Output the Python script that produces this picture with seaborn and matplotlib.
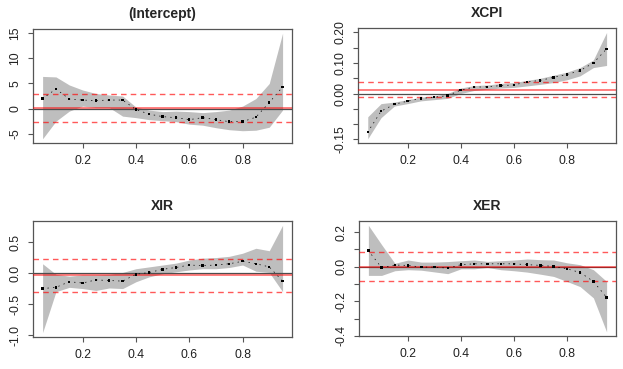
import matplotlib
matplotlib.use("Agg")
import matplotlib.pyplot as plt
import numpy as np
import pandas as pd
import seaborn as sns

# quantiles
taus = [0.05, 0.10, 0.15, 0.20, 0.25, 0.30, 0.35, 0.40, 0.45, 0.50,
        0.55, 0.60, 0.65, 0.70, 0.75, 0.80, 0.85, 0.90, 0.95]

# (Intercept)
int_est = [2.0, 3.9, 1.9, 1.7, 1.6, 1.7, 1.7, -0.2, -1.1, -1.6,
           -1.8, -2.2, -1.8, -2.2, -2.6, -2.6, -1.7, 1.2, 4.3]
int_lo = [-6.0, -2.5, -0.5, 0.5, 0.2, 0.2, -1.5, -1.8, -2.2, -2.4,
          -2.6, -3.1, -3.3, -3.8, -4.2, -4.4, -4.3, -3.7, -0.3]
int_hi = [6.4, 6.3, 4.7, 3.7, 3.0, 2.7, 2.5, 0.3, -0.3, -0.6,
          -0.5, -0.6, -0.8, -0.6, -0.3, 0.5, 2.0, 5.0, 15.0]
int_ols = [0.1, -2.7, 2.9]

# XCPI
cpi_est = [-0.126, -0.058, -0.035, -0.025, -0.016, -0.012, -0.007, 0.011, 0.021, 0.022,
           0.026, 0.028, 0.038, 0.043, 0.053, 0.062, 0.075, 0.100, 0.146]
cpi_lo = [-0.148, -0.079, -0.041, -0.033, -0.024, -0.020, -0.016, 0.000, 0.010, 0.014,
          0.018, 0.020, 0.025, 0.030, 0.036, 0.045, 0.058, 0.085, 0.092]
cpi_hi = [-0.076, -0.033, -0.028, -0.020, -0.012, -0.008, 0.000, 0.018, 0.026, 0.028,
          0.033, 0.036, 0.043, 0.050, 0.060, 0.070, 0.085, 0.110, 0.200]
cpi_ols = [0.011, -0.012, 0.037]

# XIR
ir_est = [-0.25, -0.23, -0.14, -0.16, -0.11, -0.12, -0.13, -0.02, 0.01, 0.06,
          0.09, 0.13, 0.12, 0.13, 0.15, 0.19, 0.15, 0.10, -0.13]
ir_lo = [-0.96, -0.30, -0.23, -0.25, -0.28, -0.24, -0.25, -0.14, -0.06, -0.01,
         0.02, 0.05, 0.07, 0.07, 0.09, 0.13, 0.03, 0.01, -0.30]
ir_hi = [0.15, -0.02, -0.05, -0.03, -0.03, -0.02, 0.01, 0.07, 0.10, 0.13,
         0.16, 0.21, 0.24, 0.25, 0.27, 0.32, 0.40, 0.36, 0.77]
ir_ols = [-0.035, -0.30, 0.22]

# XER
er_est = [0.093, -0.005, 0.010, 0.008, -0.002, -0.002, -0.008, 0.012, 0.017, 0.017,
          0.017, 0.017, 0.012, 0.008, 0.002, -0.012, -0.033, -0.085, -0.177]
er_lo = [-0.050, -0.050, -0.023, -0.017, -0.020, -0.030, -0.040, -0.012, -0.012, -0.004,
         -0.017, -0.023, -0.031, -0.043, -0.056, -0.085, -0.115, -0.180, -0.377]
er_hi = [0.240, 0.128, 0.020, 0.039, 0.027, 0.027, 0.030, 0.035, 0.039, 0.031,
         0.035, 0.039, 0.045, 0.041, 0.039, 0.023, 0.012, -0.017, -0.085]
er_ols = [-0.003, -0.085, 0.083]

titles = ["(Intercept)", "XCPI", "XIR", "XER"]
ytick_vals = [[-5, 0, 5, 10, 15],
              [-0.15, -0.10, -0.05, 0.00, 0.05, 0.10, 0.15, 0.20],
              [-1.0, -0.5, 0.0, 0.5],
              [-0.4, -0.3, -0.2, -0.1, 0.0, 0.1, 0.2]]
ytick_labels = [["-5", "0", "5", "10", "15"],
                ["-0.15", "", "", "0.00", "", "0.10", "", "0.20"],
                ["-1.0", "-0.5", "0.0", "0.5"],
                ["-0.4", "", "-0.2", "", "0.0", "", "0.2"]]

panels = [(int_est, int_lo, int_hi, int_ols),
          (cpi_est, cpi_lo, cpi_hi, cpi_ols),
          (ir_est, ir_lo, ir_hi, ir_ols),
          (er_est, er_lo, er_hi, er_ols)]

sns.set_style("white")
plt.rcParams['font.family'] = ['Liberation Sans', 'DejaVu Sans']

fig = plt.figure(figsize=(6.23, 3.69), dpi=100, facecolor='w')
rects = [[0.053, 0.6125, 0.416, 0.309],
         [0.575, 0.6125, 0.414, 0.311],
         [0.053, 0.087, 0.416, 0.314],
         [0.576, 0.089, 0.413, 0.312]]

for i, (est, lo, hi, ols) in enumerate(panels):
    ax = fig.add_axes(rects[i])
    df = pd.DataFrame({'tau': taus, 'est': est, 'lo': lo, 'hi': hi})
    ax.fill_between(df['tau'], df['lo'], df['hi'], color='#BEBEBE', lw=0, zorder=1)
    ax.axhline(0, color='#4d4d4d', lw=0.9, zorder=2)
    ax.axhline(ols[0], color='#ff0000', lw=1.4, alpha=0.5, zorder=3)
    for v in ols[1:]:
        ax.axhline(v, color='#ff0000', lw=1.0, alpha=0.65, ls=(0, (4, 3)), zorder=3)
    sns.lineplot(data=df, x='tau', y='est', ax=ax, color='black', lw=0.5,
                 linestyle=(1, (2, 6)), zorder=4)
    sns.scatterplot(data=df, x='tau', y='est', ax=ax, color='black', s=3,
                    marker='s', edgecolor='none', zorder=5)
    ax.margins(x=0.04, y=0.04)
    ax.set_xticks([0.2, 0.4, 0.6, 0.8], labels=["0.2", "0.4", "0.6", "0.8"])
    ax.set_yticks(ytick_vals[i], labels=ytick_labels[i])
    for lab in ax.get_yticklabels():
        lab.set_rotation(90)
        lab.set_va('center')
    ax.tick_params(axis='both', which='both', direction='out', length=3.5, width=0.8,
                   color='#555555', labelsize=8.8, labelcolor='#222222', pad=5,
                   bottom=True, left=True)
    ax.set_xlabel('')
    ax.set_ylabel('')
    ax.set_title(titles[i], fontsize=10, fontweight='bold', pad=8)
    for s in ax.spines.values():
        s.set_color('#555555')
        s.set_linewidth(0.9)

plt.savefig('out.png', dpi=100)
